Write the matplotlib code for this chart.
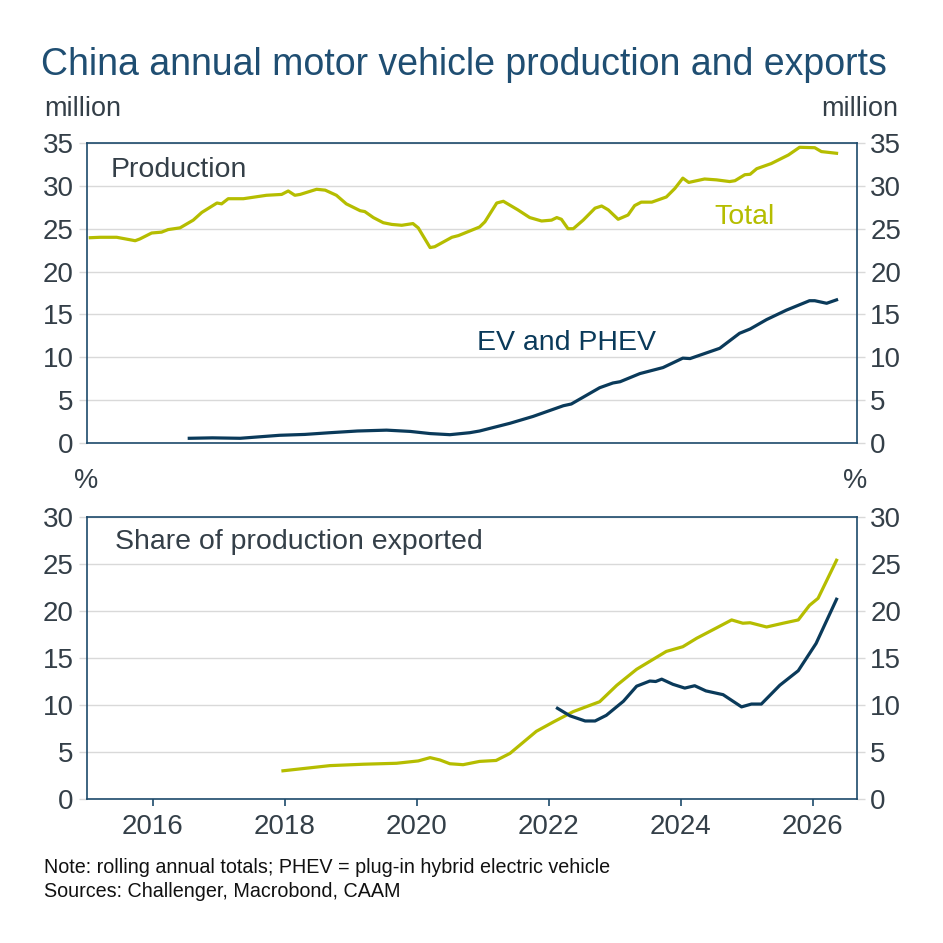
import matplotlib
matplotlib.use("Agg")
import matplotlib.pyplot as plt

plt.rcParams['font.family'] = ['Liberation Sans', 'DejaVu Sans']

# ---- Data (decimal years) ----
total_x = [2015.05, 2015.2, 2015.45, 2015.73, 2015.8, 2015.98, 2016.13, 2016.23, 2016.41, 2016.61,
           2016.74, 2016.97, 2017.04, 2017.14, 2017.37, 2017.72, 2017.95, 2018.05, 2018.15, 2018.23,
           2018.48, 2018.61, 2018.78, 2018.93, 2019.14, 2019.21, 2019.34, 2019.49, 2019.62, 2019.77,
           2019.94, 2020.02, 2020.20, 2020.27, 2020.53, 2020.63, 2020.95, 2021.03, 2021.21, 2021.31,
           2021.53, 2021.71, 2021.89, 2022.04, 2022.12, 2022.19, 2022.29, 2022.37, 2022.52, 2022.70,
           2022.80, 2022.90, 2023.05, 2023.20, 2023.30, 2023.40, 2023.56, 2023.78, 2023.91, 2024.03,
           2024.12, 2024.24, 2024.36, 2024.54, 2024.74, 2024.82, 2024.97, 2025.05, 2025.15, 2025.37,
           2025.63, 2025.80, 2026.03, 2026.13, 2026.36]
total_prod = [23.95, 24.0, 24.0, 23.6, 23.8, 24.5, 24.6, 24.9, 25.1, 26.0,
              26.9, 28.0, 27.9, 28.5, 28.5, 28.9, 29.0, 29.4, 28.9, 29.0,
              29.6, 29.5, 28.9, 27.9, 27.1, 27.0, 26.3, 25.7, 25.5, 25.4,
              25.6, 25.1, 22.8, 22.9, 24.0, 24.2, 25.2, 25.8, 28.0, 28.2,
              27.2, 26.3, 25.9, 26.0, 26.3, 26.1, 25.0, 25.0, 26.0, 27.4,
              27.65, 27.2, 26.1, 26.6, 27.7, 28.1, 28.1, 28.7, 29.7, 30.9,
              30.4, 30.6, 30.8, 30.7, 30.5, 30.6, 31.3, 31.35, 32.0, 32.6,
              33.6, 34.5, 34.45, 34.0, 33.8]

ev_x = [2016.55, 2016.9, 2017.32, 2017.92, 2018.3, 2018.68, 2019.1, 2019.54, 2019.9, 2020.2,
        2020.5, 2020.8, 2020.95, 2021.41, 2021.76, 2022.22, 2022.34, 2022.77, 2022.97, 2023.08,
        2023.38, 2023.73, 2024.03, 2024.14, 2024.59, 2024.89, 2025.05, 2025.30, 2025.60, 2025.95,
        2026.03, 2026.21, 2026.36]
ev_prod = [0.55, 0.6, 0.55, 0.9, 1.0, 1.2, 1.4, 1.5, 1.35, 1.1,
           0.97, 1.2, 1.4, 2.3, 3.1, 4.35, 4.55, 6.45, 7.0, 7.15,
           8.1, 8.8, 9.9, 9.85, 11.05, 12.8, 13.3, 14.4, 15.5, 16.6,
           16.6, 16.3, 16.7]

share_total_x = [2017.97, 2018.68, 2019.19, 2019.69, 2020.02, 2020.2, 2020.35, 2020.5, 2020.7, 2020.95,
                 2021.2, 2021.41, 2021.81, 2022.07, 2022.37, 2022.77, 2023.03, 2023.33, 2023.78, 2024.03,
                 2024.24, 2024.54, 2024.77, 2024.94, 2025.05, 2025.30, 2025.55, 2025.78, 2025.95, 2026.08,
                 2026.36]
share_total = [3.0, 3.55, 3.7, 3.8, 4.05, 4.4, 4.15, 3.75, 3.65, 4.0,
               4.1, 4.85, 7.2, 8.2, 9.3, 10.35, 12.1, 13.8, 15.7, 16.2,
               17.1, 18.2, 19.05, 18.7, 18.75, 18.3, 18.7, 19.05, 20.6, 21.35,
               25.4]

share_ev_x = [2022.13, 2022.32, 2022.55, 2022.70, 2022.87, 2023.13, 2023.33, 2023.53, 2023.62, 2023.71,
              2023.88, 2024.06, 2024.21, 2024.38, 2024.64, 2024.92, 2025.07, 2025.22, 2025.50, 2025.78,
              2026.05, 2026.36]
share_ev = [9.65, 8.85, 8.3, 8.3, 8.9, 10.4, 12.0, 12.55, 12.5, 12.75,
            12.2, 11.8, 12.05, 11.5, 11.1, 9.8, 10.1, 10.1, 12.1, 13.65,
            16.55, 21.25]

year_ticks = [2016, 2018, 2020, 2022, 2024, 2026]
top_ticks = [0, 5, 10, 15, 20, 25, 30, 35]
bot_ticks = [0, 5, 10, 15, 20, 25, 30]

# ---- Styles ----
C_TOTAL = '#b5bd00'
C_EV = '#0a3a5a'
C_FRAME = '#1d4a6b'
C_TITLE = '#1f4e72'
C_TEXT = '#343f48'
C_GRID = '#d9d9d9'

W = 943
fig = plt.figure(figsize=(9.43, 9.43), dpi=100)

def fx(px):
    return px / W

def fy(py):
    return 1 - py / W

ax1 = fig.add_axes([fx(87), fy(443), fx(857 - 87), (443 - 143) / W])
ax2 = fig.add_axes([fx(87), fy(799), fx(857 - 87), (799 - 517) / W])

for ax in (ax1, ax2):
    ax.set_xlim(2015.0, 2026.67)
    for sp in ax.spines.values():
        sp.set_color(C_FRAME)
        sp.set_linewidth(1.2)
    ax.grid(axis='y', color=C_GRID, linewidth=1.0)
    ax.set_axisbelow(True)
    ax.tick_params(axis='y', which='both', left=True, right=True, labelleft=True,
                   labelright=True, length=5.5, width=1.0, color=C_GRID,
                   labelsize=20, labelcolor=C_TEXT, pad=4)

ax1.plot(total_x, total_prod, color=C_TOTAL, lw=2.3, solid_joinstyle='round')
ax1.plot(ev_x, ev_prod, color=C_EV, lw=2.3, solid_joinstyle='round')
ax1.set_ylim(0, 35)
ax1.set_yticks(top_ticks)
ax1.set_xticks([])

ax2.plot(share_total_x, share_total, color=C_TOTAL, lw=2.3, solid_joinstyle='round')
ax2.plot(share_ev_x, share_ev, color=C_EV, lw=2.3, solid_joinstyle='round')
ax2.set_ylim(0, 30)
ax2.set_yticks(bot_ticks)
ax2.set_xticks(year_ticks)
ax2.set_xticklabels([str(y) for y in year_ticks])
ax2.tick_params(axis='x', direction='out', length=5, width=1.2, color=C_FRAME,
                labelsize=20, labelcolor=C_TEXT, pad=6)

# ---- Texts ----
fig.text(fx(41), fy(75), 'China annual motor vehicle production and exports',
         fontsize=27, color=C_TITLE, ha='left', va='baseline')
fig.text(fx(44), fy(116), 'million', fontsize=19.5, color=C_TEXT, ha='left', va='baseline')
fig.text(fx(898), fy(116), 'million', fontsize=19.5, color=C_TEXT, ha='right', va='baseline')
fig.text(fx(74), fy(488), '%', fontsize=19.5, color=C_TEXT, ha='left', va='baseline')
fig.text(fx(867), fy(488), '%', fontsize=19.5, color=C_TEXT, ha='right', va='baseline')

fig.text(fx(111), fy(177), 'Production', fontsize=20.5, color=C_TEXT, ha='left', va='baseline')
fig.text(fx(714), fy(224), 'Total', fontsize=20.5, color=C_TOTAL, ha='left', va='baseline')
fig.text(fx(477), fy(350), 'EV and PHEV', fontsize=20.5, color=C_EV, ha='left', va='baseline')
fig.text(fx(115), fy(549), 'Share of production exported', fontsize=20.5, color=C_TEXT,
         ha='left', va='baseline')

fig.text(fx(44), fy(873), 'Note: rolling annual totals; PHEV = plug-in hybrid electric vehicle',
         fontsize=14.2, color='#111111', ha='left', va='baseline')
fig.text(fx(44), fy(897), 'Sources: Challenger, Macrobond, CAAM',
         fontsize=14.2, color='#111111', ha='left', va='baseline')

fig.savefig('out.png', dpi=100)
